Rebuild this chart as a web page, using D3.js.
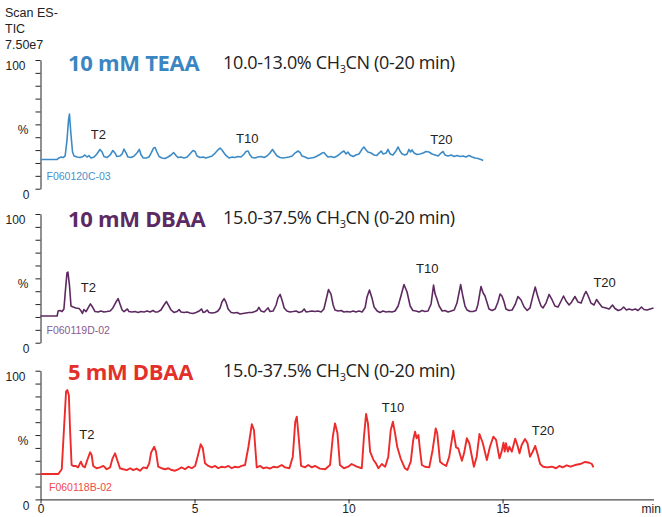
<!DOCTYPE html>
<html>
<head>
<meta charset="utf-8">
<script src="https://cdn.jsdelivr.net/npm/d3@7"></script>
<style>
	body { margin: 0; background: #fff; }
	text { font-family: "Liberation Sans", Arial, sans-serif; fill: #222; }
	.title { font-family: "Open Sans", sans-serif; font-weight: 700; }
	.subtitle { font-family: "Open Sans", sans-serif; }
</style>
</head>
<body>
<svg id="chart" width="662" height="517"></svg>
<script>
// time (min), intensity (%)
const teaaTrace = [[0,22.7],[0.54,22.7],[0.60,23.9],[0.67,24.6],[0.73,24.2],[0.80,25.4],[0.86,37.8],[0.91,53.4],[0.94,58.0],[0.99,41.7],[1.04,28.5],[1.09,25.4],[1.19,24.6],[1.28,24.2],[1.38,25.0],[1.44,26.2],[1.51,24.6],[1.57,25.8],[1.64,23.9],[1.74,24.6],[1.83,27.0],[1.93,30.5],[2.00,28.5],[2.06,25.0],[2.16,24.2],[2.26,26.2],[2.35,29.7],[2.42,27.7],[2.48,25.0],[2.58,25.4],[2.65,27.0],[2.71,30.8],[2.78,27.7],[2.84,24.6],[2.94,24.2],[3.04,25.4],[3.13,27.7],[3.21,30.5],[3.26,26.6],[3.33,23.9],[3.43,23.9],[3.52,24.6],[3.59,27.7],[3.67,31.6],[3.72,32.0],[3.78,28.5],[3.85,25.0],[3.94,23.9],[4.04,23.5],[4.14,24.6],[4.24,26.2],[4.32,28.1],[4.40,25.8],[4.46,24.2],[4.56,24.6],[4.66,23.9],[4.76,24.6],[4.85,27.0],[4.95,29.7],[5.02,28.9],[5.08,25.4],[5.18,24.2],[5.28,24.6],[5.37,23.9],[5.47,24.6],[5.57,25.4],[5.67,27.7],[5.76,30.1],[5.83,31.6],[5.89,30.1],[5.96,27.7],[6.02,25.8],[6.12,23.9],[6.22,24.6],[6.31,24.2],[6.41,25.0],[6.51,24.6],[6.61,27.0],[6.67,28.9],[6.74,29.3],[6.80,26.2],[6.87,24.2],[6.96,23.9],[7.06,24.6],[7.16,25.0],[7.26,24.2],[7.35,25.4],[7.45,27.7],[7.53,30.5],[7.61,27.7],[7.68,25.4],[7.78,24.2],[7.87,23.9],[7.97,24.2],[8.07,24.6],[8.17,25.4],[8.26,27.7],[8.36,29.3],[8.43,28.1],[8.49,25.4],[8.59,24.6],[8.69,23.5],[8.78,23.9],[8.88,24.2],[8.98,25.4],[9.07,26.6],[9.14,27.7],[9.20,28.1],[9.27,26.2],[9.33,24.6],[9.43,25.0],[9.53,24.2],[9.63,25.4],[9.72,27.0],[9.79,28.5],[9.85,29.3],[9.92,27.0],[9.98,28.5],[10.05,26.2],[10.15,25.0],[10.24,26.2],[10.34,27.0],[10.44,30.8],[10.50,32.4],[10.57,30.1],[10.63,28.5],[10.73,27.7],[10.83,26.2],[10.92,25.8],[10.99,27.7],[11.06,29.3],[11.12,27.0],[11.22,27.7],[11.28,30.5],[11.35,27.0],[11.44,26.2],[11.54,29.3],[11.61,32.4],[11.67,29.3],[11.74,27.0],[11.83,26.2],[11.90,27.0],[11.96,30.5],[12.01,28.5],[12.06,30.1],[12.13,27.7],[12.22,26.6],[12.32,27.0],[12.42,27.7],[12.52,28.9],[12.61,28.5],[12.71,27.0],[12.81,26.2],[12.91,25.4],[13.00,27.7],[13.07,28.9],[13.13,26.2],[13.23,25.4],[13.33,26.2],[13.43,25.0],[13.52,25.8],[13.62,25.0],[13.72,25.4],[13.81,24.6],[13.91,25.8],[14.01,24.6],[14.11,23.9],[14.20,23.5],[14.30,22.7],[14.37,21.9]];

const dbaa10Trace = [[0,20.7],[0.54,20.7],[0.57,24.6],[0.63,25.0],[0.70,24.2],[0.76,26.2],[0.81,40.9],[0.86,54.2],[0.89,54.9],[0.94,44.8],[0.99,28.5],[1.06,27.7],[1.15,27.0],[1.25,26.6],[1.31,25.0],[1.36,22.7],[1.41,25.8],[1.48,24.2],[1.56,27.7],[1.62,30.1],[1.69,27.7],[1.77,24.2],[1.87,23.9],[1.96,24.6],[2.06,23.9],[2.16,24.2],[2.26,24.6],[2.35,27.0],[2.45,31.6],[2.52,34.3],[2.58,30.1],[2.65,25.4],[2.71,24.2],[2.78,25.4],[2.82,26.2],[2.87,24.2],[2.97,23.9],[3.07,24.2],[3.17,23.5],[3.26,24.2],[3.36,23.9],[3.46,24.6],[3.56,23.9],[3.65,25.0],[3.72,23.9],[3.81,23.9],[3.91,25.4],[4.01,29.3],[4.09,32.0],[4.17,28.5],[4.24,25.4],[4.33,23.5],[4.43,24.2],[4.50,25.8],[4.56,23.9],[4.66,23.5],[4.76,23.9],[4.85,23.1],[4.95,22.7],[5.05,23.5],[5.15,24.6],[5.23,26.2],[5.28,23.5],[5.34,23.9],[5.41,25.4],[5.47,23.5],[5.57,23.1],[5.67,23.5],[5.76,24.6],[5.83,27.0],[5.89,31.6],[5.96,34.3],[6.02,31.6],[6.09,26.2],[6.19,23.5],[6.28,23.1],[6.38,23.5],[6.48,22.3],[6.57,22.7],[6.67,23.1],[6.77,23.5],[6.87,23.5],[6.96,24.2],[7.03,25.0],[7.09,27.4],[7.16,24.6],[7.26,23.9],[7.32,25.4],[7.39,27.0],[7.45,24.2],[7.55,24.6],[7.65,29.3],[7.71,34.8],[7.78,37.5],[7.84,33.2],[7.91,27.0],[8.00,24.6],[8.10,23.9],[8.20,24.2],[8.30,24.6],[8.39,23.5],[8.49,24.2],[8.56,26.2],[8.62,23.9],[8.72,24.2],[8.81,24.6],[8.91,24.2],[9.01,24.6],[9.11,23.9],[9.20,26.2],[9.27,33.2],[9.35,41.3],[9.43,37.8],[9.50,29.3],[9.56,25.4],[9.66,24.6],[9.76,25.0],[9.85,23.9],[9.95,24.2],[10.05,23.9],[10.15,24.6],[10.24,23.9],[10.34,24.6],[10.44,23.9],[10.54,27.4],[10.60,35.5],[10.68,40.9],[10.76,34.8],[10.83,27.7],[10.93,24.6],[11.02,23.5],[11.12,24.6],[11.22,23.9],[11.31,24.2],[11.41,23.9],[11.51,24.6],[11.61,28.5],[11.71,37.1],[11.80,45.2],[11.90,39.4],[12.00,28.5],[12.09,25.0],[12.19,24.6],[12.29,23.9],[12.39,25.0],[12.48,24.2],[12.58,24.6],[12.68,30.1],[12.76,44.8],[12.81,37.8],[12.87,34.0],[12.94,28.5],[13.04,24.6],[13.13,25.0],[13.23,23.9],[13.33,24.6],[13.43,25.4],[13.52,30.8],[13.64,45.2],[13.72,35.1],[13.78,28.5],[13.85,25.4],[13.94,24.2],[14.04,24.2],[14.14,25.0],[14.20,29.7],[14.30,43.7],[14.37,38.6],[14.43,36.3],[14.50,30.8],[14.56,26.2],[14.66,25.0],[14.76,26.2],[14.85,31.6],[14.92,37.8],[14.98,36.3],[15.05,31.6],[15.11,26.2],[15.21,25.0],[15.31,25.4],[15.41,29.7],[15.50,35.9],[15.60,33.2],[15.70,27.7],[15.80,25.0],[15.89,27.0],[15.97,34.8],[16.06,43.3],[16.12,37.8],[16.19,32.4],[16.25,28.5],[16.31,27.0],[16.41,30.8],[16.51,37.5],[16.61,33.2],[16.70,28.5],[16.80,27.7],[16.90,32.4],[16.98,36.3],[17.06,32.4],[17.16,29.3],[17.22,30.8],[17.35,35.9],[17.45,31.6],[17.55,30.8],[17.65,37.1],[17.71,39.8],[17.78,36.3],[17.87,30.8],[17.97,29.3],[18.05,33.6],[18.13,30.8],[18.23,27.7],[18.36,27.0],[18.46,26.2],[18.57,29.3],[18.65,26.6],[18.75,25.0],[18.85,25.8],[18.93,27.7],[19.02,25.4],[19.11,26.2],[19.21,25.4],[19.31,26.2],[19.40,25.0],[19.51,27.7],[19.59,25.8],[19.69,25.4],[19.79,26.2],[19.90,27.0]];

const dbaa5Trace = [[0,19.7],[0.58,19.7],[0.63,21.5],[0.69,23.4],[0.76,53.9],[0.83,83.7],[0.87,85.0],[0.92,81.1],[0.96,53.9],[1.01,26.7],[1.06,26.0],[1.15,26.0],[1.22,24.9],[1.31,29.3],[1.37,26.0],[1.44,24.9],[1.52,30.6],[1.61,36.6],[1.66,34.5],[1.71,26.0],[1.82,24.2],[1.93,24.9],[2.04,26.0],[2.15,23.4],[2.26,24.9],[2.34,31.9],[2.42,35.8],[2.49,30.6],[2.58,24.2],[2.69,23.4],[2.80,22.8],[2.91,24.2],[3.01,22.8],[3.12,23.9],[3.23,22.3],[3.34,24.9],[3.45,24.2],[3.53,28.0],[3.59,36.3],[3.69,40.9],[3.75,37.1],[3.82,25.4],[3.94,24.2],[4.04,23.4],[4.15,24.2],[4.26,22.8],[4.37,22.3],[4.47,23.4],[4.58,24.9],[4.69,23.4],[4.80,25.4],[4.91,24.2],[5.02,26.0],[5.10,33.2],[5.20,42.8],[5.27,39.7],[5.34,28.0],[5.45,26.0],[5.56,24.9],[5.67,26.0],[5.77,24.2],[5.88,25.4],[5.99,24.9],[6.10,26.0],[6.21,24.2],[6.31,25.4],[6.42,24.9],[6.53,26.0],[6.64,26.7],[6.75,40.9],[6.86,58.4],[6.93,53.9],[7.02,24.9],[7.13,26.0],[7.23,24.2],[7.34,24.9],[7.45,23.9],[7.56,25.4],[7.69,24.9],[7.83,26.7],[7.94,24.9],[8.08,24.2],[8.19,33.2],[8.27,60.4],[8.32,64.3],[8.38,48.7],[8.46,26.0],[8.59,24.9],[8.69,26.7],[8.81,24.9],[8.91,26.0],[9.07,23.9],[9.24,23.4],[9.40,26.7],[9.49,48.7],[9.56,59.1],[9.64,51.4],[9.72,26.7],[9.85,24.2],[9.99,25.4],[10.10,27.5],[10.27,25.4],[10.43,24.2],[10.50,48.7],[10.57,66.4],[10.63,59.1],[10.70,37.1],[10.81,30.6],[10.89,28.0],[10.97,24.2],[11.08,27.5],[11.19,25.4],[11.29,33.2],[11.37,53.9],[11.44,60.4],[11.51,51.4],[11.58,40.9],[11.69,31.9],[11.83,24.2],[11.91,22.8],[12.02,29.3],[12.10,46.2],[12.16,52.6],[12.21,47.5],[12.27,50.0],[12.32,38.4],[12.38,26.7],[12.48,25.4],[12.62,24.9],[12.73,38.4],[12.83,55.2],[12.88,51.4],[12.97,29.3],[13.06,27.5],[13.17,26.0],[13.27,33.2],[13.40,53.4],[13.49,40.5],[13.56,39.7],[13.68,30.0],[13.75,35.8],[13.84,47.5],[13.92,43.6],[14.07,25.4],[14.16,33.2],[14.25,50.8],[14.36,43.6],[14.49,30.6],[14.59,40.9],[14.70,48.7],[14.79,46.2],[14.90,31.9],[14.97,37.1],[15.03,44.1],[15.07,37.1],[15.11,43.6],[15.17,37.1],[15.22,40.9],[15.30,37.1],[15.41,47.2],[15.48,42.3],[15.55,35.8],[15.62,42.3],[15.73,46.9],[15.81,43.6],[15.89,33.2],[15.98,37.1],[16.06,41.5],[16.13,35.8],[16.22,27.5],[16.32,25.4],[16.45,24.9],[16.60,25.4],[16.74,24.2],[16.84,26.0],[16.95,24.9],[17.08,26.5],[17.21,25.4],[17.35,26.7],[17.52,27.5],[17.68,29.1],[17.82,28.5],[17.90,27.5],[17.95,24.9]];

const panelTitles = ["10 mM TEAA", "10 mM DBAA", "5 mM DBAA"];
const gradients = ["10.0-13.0%", "15.0-37.5%", "15.0-37.5%"];
const sampleNames = ["F060120C-03", "F060119D-02", "F060118B-02"];
// [label, time, intensity] of each oligo label
const peakLabels = [
	[["T2", 1.63, 38.4], ["T10", 6.35, 35.3], ["T20", 12.65, 34.5]],
	[["T2", 1.31, 39.2], ["T10", 12.19, 53.9], ["T20", 17.95, 43.0]],
	[["T2", 1.26, 46.7], ["T10", 11.08, 68.1], ["T20", 15.95, 50.0]]
];
const xTicks = [0, 5, 10, 15];
const yTicks = [0, 10, 20, 30, 40, 50, 60, 70, 80, 90, 100];
const headerLines = ["Scan ES-", "TIC", "7.50e7"];

const traces = [teaaTrace, dbaa10Trace, dbaa5Trace];
const lineColors = ["#3d8bc6", "#5c2a60", "#ee2b2b"];
const titleColors = ["#3a86c2", "#5b2a63", "#e4302a"];
const nameColors = ["#4a90c8", "#8a5a90", "#f04a4a"];

const svg = d3.select("svg#chart");
const panelTops = [60, 214, 370.7];
const panelHeight = 128.7;
const axisX = 40.5;

const x = d3.scaleLinear([0, 19.9], [axisX, 653.5]);

// header
svg.append("g")
	.selectAll("text")
	.data(headerLines)
	.join("text")
	.attr("x", 5)
	.attr("y", (d, i) => 16.7 + i * 16)
	.style("font-size", "12.5px")
	.text((d) => d);

traces.forEach((trace, i) => {
	const top = panelTops[i];
	const y = d3.scaleLinear([0, 100], [top + panelHeight, top]);
	const g = svg.append("g").attr("class", "panel");

	// y axis
	g.append("g")
		.attr("transform", `translate(${axisX},0)`)
		.call(d3.axisLeft(y).tickValues(yTicks).tickSize(5).tickSizeOuter(0).tickFormat(""))
		.call((a) => a.selectAll("path, line").attr("stroke", "#222"));

	g.append("text").attr("x", 25.5).attr("y", y(100) + 10).attr("text-anchor", "end").style("font-size", "12px").text("100");
	g.append("text").attr("x", 28.5).attr("y", y(50) + 10).attr("text-anchor", "end").style("font-size", "12px").text("%");
	g.append("text").attr("x", 29.5).attr("y", y(0) + 10.5).attr("text-anchor", "end").style("font-size", "12px").text("0");

	// trace
	g.append("path")
		.datum(trace)
		.attr("fill", "none")
		.attr("stroke", lineColors[i])
		.attr("stroke-width", i === 2 ? 1.9 : 1.6)
		.attr("stroke-linejoin", "round")
		.attr("d", d3.line().x((d) => x(d[0])).y((d) => y(d[1])));

	// peak labels
	g.selectAll("text.peak")
		.data(peakLabels[i])
		.join("text")
		.attr("class", "peak")
		.attr("x", (d) => x(d[1]))
		.attr("y", (d) => y(d[2]))
		.style("font-size", "13px")
		.text((d) => d[0]);

	// sample name
	g.append("text")
		.attr("x", i === 2 ? 49 : 46.5)
		.attr("y", top + 120)
		.style("font-size", "10.5px")
		.style("fill", nameColors[i])
		.text(sampleNames[i]);

	// titles
	const titleY = [70.7, 227.3, 380][i];
	g.append("text")
		.attr("class", "title")
		.attr("x", 68)
		.attr("y", titleY)
		.style("font-size", "22px")
		.style("fill", titleColors[i])
		.style("letter-spacing", "-0.3px")
		.text(panelTitles[i]);

	const sub = g.append("text")
		.attr("class", "subtitle")
		.attr("x", 223)
		.attr("y", [69.3, 224.3, 376.7][i])
		.style("font-size", "18px")
		.style("letter-spacing", "-0.35px");
	sub.append("tspan").text(gradients[i] + " CH");
	sub.append("tspan").attr("dy", 4).style("font-size", "11px").text("3");
	sub.append("tspan").attr("dy", -4).text("CN (0-20 min)");
});

// x axis
const xAxisY = panelTops[2] + panelHeight;
svg.append("g")
	.attr("transform", `translate(0,${xAxisY})`)
	.call(d3.axisBottom(x).tickValues(xTicks).tickSize(4).tickSizeOuter(0).tickPadding(1))
	.call((a) => a.selectAll("path, line").attr("stroke", "#222"))
	.call((a) => a.selectAll("text").style("font-size", "12px").style("font-family", "'Liberation Sans', Arial, sans-serif").attr("fill", "#222"));

svg.append("text")
	.attr("x", 641.5)
	.attr("y", xAxisY + 14)
	.style("font-size", "12px")
	.text("min");
</script>
</body>
</html>
